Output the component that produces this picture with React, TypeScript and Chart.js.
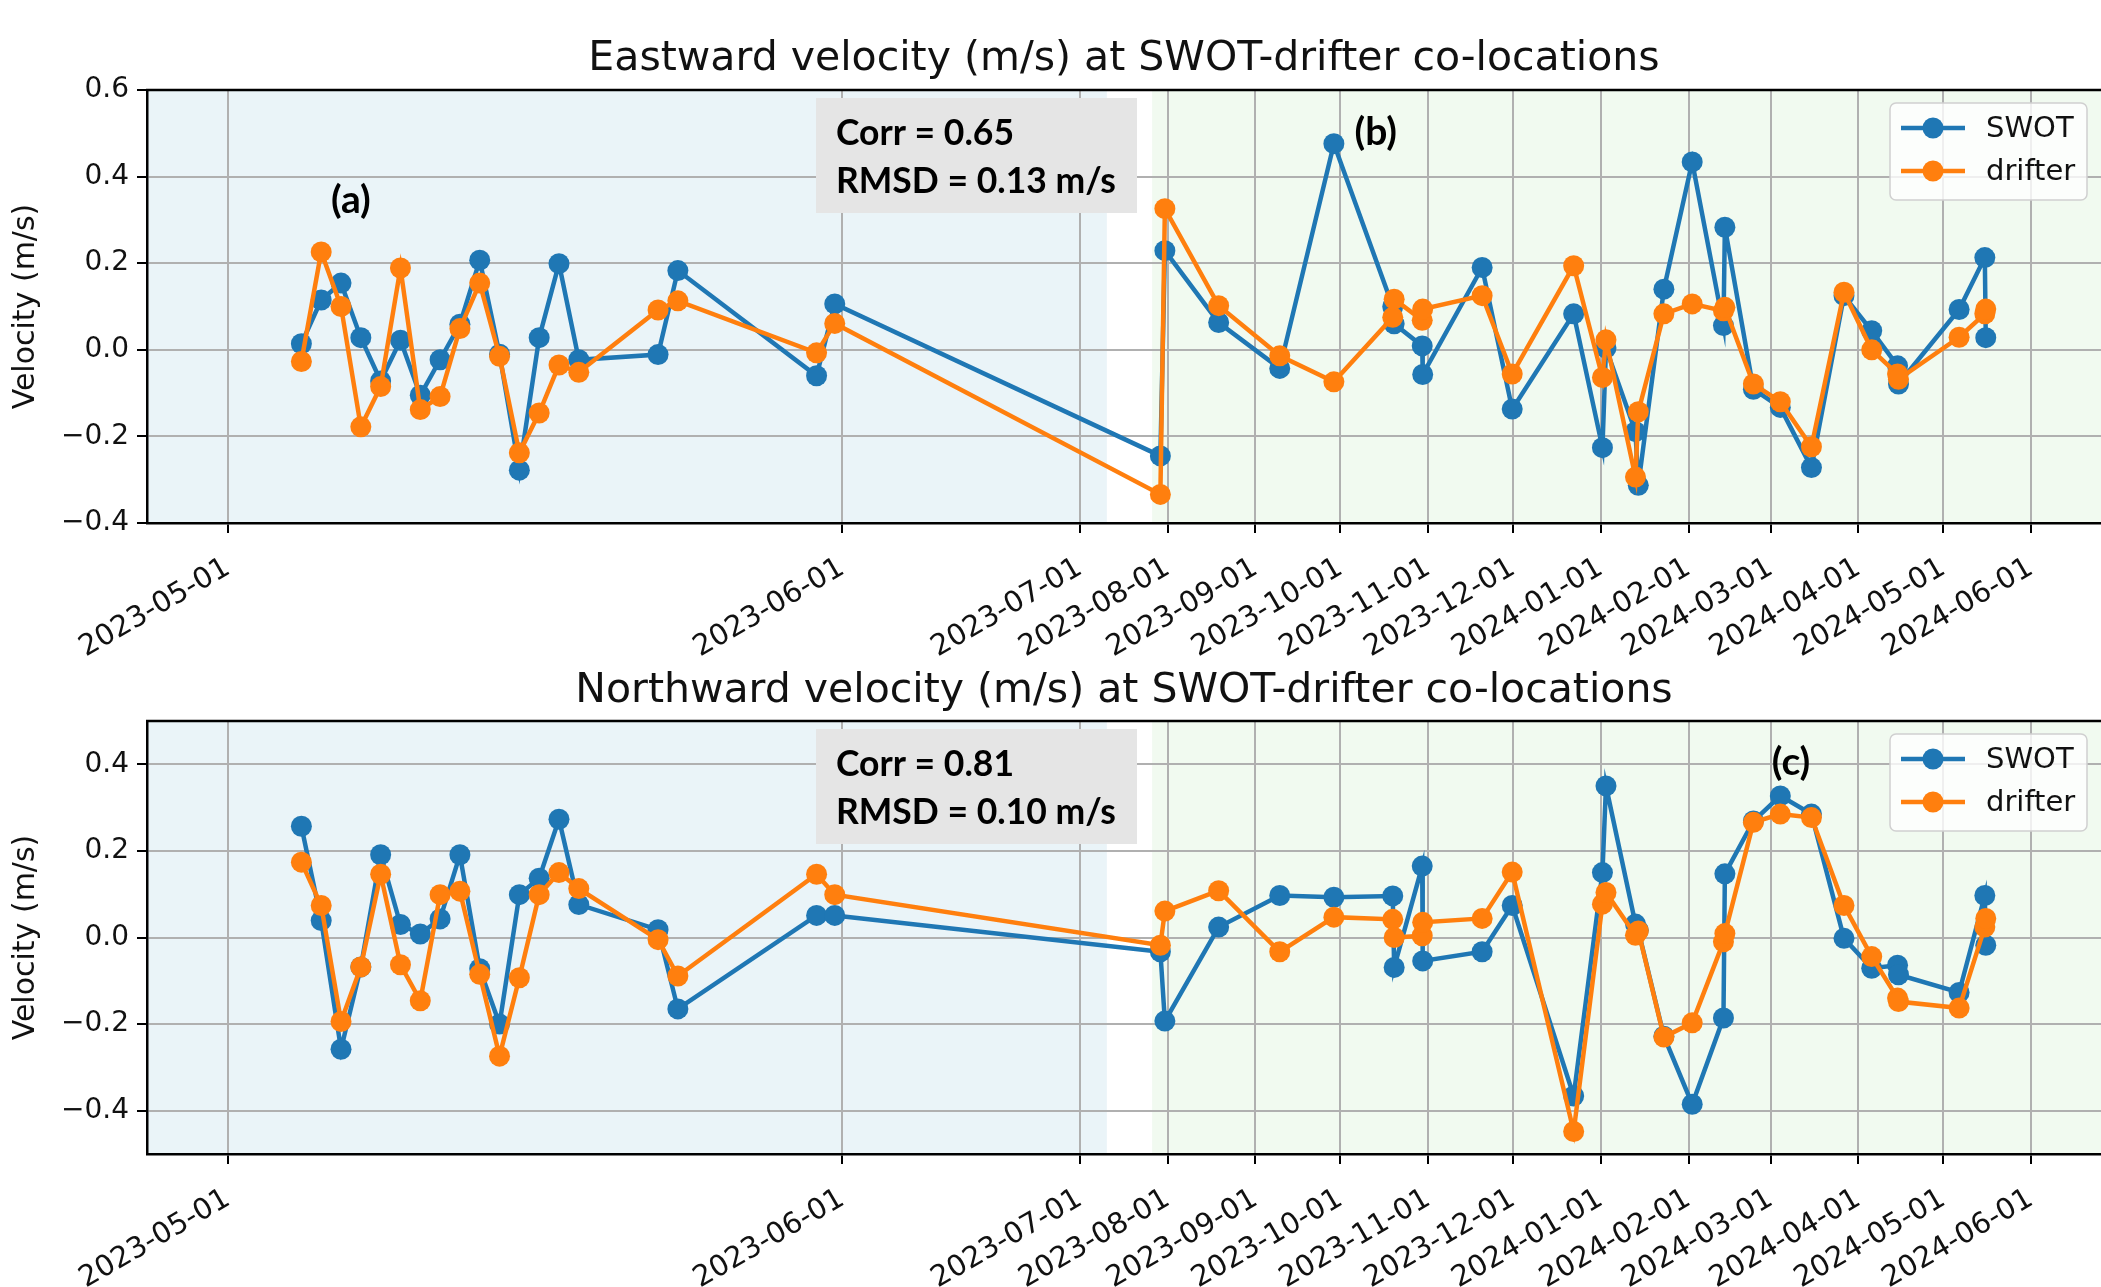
import React, { useEffect, useRef } from 'react';
import { Chart, registerables } from 'chart.js';

Chart.register(...registerables);

// ---------------- data ----------------
const OBS_TIMES = [
  '2023-05-04T17:00', '2023-05-05T17:00', '2023-05-06T17:00', '2023-05-07T17:00', '2023-05-08T17:00',
  '2023-05-09T17:00', '2023-05-10T17:00', '2023-05-11T17:00', '2023-05-12T17:00', '2023-05-13T17:00',
  '2023-05-14T17:00', '2023-05-15T17:00', '2023-05-16T17:00', '2023-05-17T17:00', '2023-05-18T17:00',
  '2023-05-22T17:00', '2023-05-23T17:00', '2023-05-30T17:00', '2023-05-31T15:00',
  '2023-07-29T10:00', '2023-07-31T00:00', '2023-08-19T00:00', '2023-09-09T14:00', '2023-09-28T17:00',
  '2023-10-19T12:00', '2023-10-20T00:00', '2023-10-29T22:00', '2023-10-30T02:00', '2023-11-20T02:00',
  '2023-11-30T17:00', '2023-12-22T10:00', '2024-01-01T14:00', '2024-01-02T20:00', '2024-01-13T06:00',
  '2024-01-14T06:00', '2024-01-23T07:00', '2024-02-02T07:00', '2024-02-13T08:00', '2024-02-13T20:00',
  '2024-02-23T22:00', '2024-03-04T10:00', '2024-03-15T10:00', '2024-03-26T22:00', '2024-04-05T17:00',
  '2024-04-14T20:00', '2024-04-15T04:00', '2024-05-06T14:00', '2024-05-15T16:00', '2024-05-16T00:00',
];

const EAST_SWOT = [
  0.014, 0.115, 0.154, 0.028, -0.072, 0.022, -0.105, -0.023, 0.059, 0.207,
  -0.010, -0.278, 0.028, 0.199, -0.023, -0.011, 0.183, -0.060, 0.106,
  -0.245, 0.229, 0.063, -0.043, 0.476, 0.100, 0.060, 0.009, -0.057, 0.190,
  -0.137, 0.083, -0.226, 0.004, -0.189, -0.313, 0.140, 0.434, 0.056, 0.283,
  -0.091, -0.133, -0.272, 0.125, 0.044, -0.037, -0.079, 0.093, 0.213, 0.028,
];

const EAST_DRIFTER = [
  -0.027, 0.226, 0.100, -0.178, -0.085, 0.189, -0.138, -0.108, 0.049, 0.154,
  -0.015, -0.238, -0.146, -0.035, -0.052, 0.092, 0.113, -0.007, 0.061,
  -0.334, 0.326, 0.102, -0.014, -0.074, 0.075, 0.117, 0.068, 0.094, 0.125,
  -0.056, 0.194, -0.064, 0.023, -0.294, -0.143, 0.083, 0.106, 0.090, 0.098,
  -0.079, -0.120, -0.224, 0.133, 0.000, -0.056, -0.068, 0.029, 0.083, 0.094,
];

const NORTH_SWOT = [
  0.257, 0.039, -0.258, -0.068, 0.191, 0.030, 0.008, 0.043, 0.191, -0.072,
  -0.200, 0.099, 0.137, 0.273, 0.076, 0.018, -0.165, 0.051, 0.051,
  -0.033, -0.193, 0.024, 0.097, 0.093, 0.096, -0.069, 0.165, -0.054, -0.033,
  0.074, -0.366, 0.150, 0.350, 0.031, 0.017, -0.228, -0.385, -0.186, 0.147,
  0.269, 0.327, 0.285, -0.002, -0.071, -0.064, -0.086, -0.127, 0.097, -0.018,
];

const NORTH_DRIFTER = [
  0.174, 0.074, -0.194, -0.068, 0.146, -0.063, -0.146, 0.099, 0.107, -0.085,
  -0.274, -0.093, 0.099, 0.150, 0.113, -0.005, -0.089, 0.146, 0.099,
  -0.018, 0.061, 0.108, -0.033, 0.047, 0.042, 0.000, 0.004, 0.035, 0.044,
  0.151, -0.448, 0.077, 0.104, 0.005, 0.015, -0.230, -0.197, -0.010, 0.009,
  0.266, 0.285, 0.277, 0.074, -0.044, -0.140, -0.148, -0.163, 0.024, 0.044,
];

const TICK_DATES = [
  '2023-05-01', '2023-06-01', '2023-07-01', '2023-08-01', '2023-09-01', '2023-10-01', '2023-11-01',
  '2023-12-01', '2024-01-01', '2024-02-01', '2024-03-01', '2024-04-01', '2024-05-01', '2024-06-01',
];

const EAST_Y_TICKS = [-0.4, -0.2, 0.0, 0.2, 0.4, 0.6];
const NORTH_Y_TICKS = [-0.4, -0.2, 0.0, 0.2, 0.4];
const EAST_Y_RANGE = [-0.4, 0.6];
const NORTH_Y_RANGE = [-0.5, 0.5];

const SERIES_NAMES = ['SWOT', 'drifter'];
const EAST_STATS = ['Corr = 0.65', 'RMSD = 0.13 m/s'];
const NORTH_STATS = ['Corr = 0.81', 'RMSD = 0.10 m/s'];
const EAST_TITLE = 'Eastward velocity (m/s) at SWOT-drifter co-locations';
const NORTH_TITLE = 'Northward velocity (m/s) at SWOT-drifter co-locations';
const Y_LABEL = 'Velocity (m/s)';

// panel labels: [text, date, value]
const EAST_PANEL_LABELS: [string, string, number][] = [
  ['(a)', '2023-05-07T05:00', 0.344],
  ['(b)', '2023-10-13T12:00', 0.503],
];
const NORTH_PANEL_LABELS: [string, string, number][] = [['(c)', '2024-03-08T05:00', 0.405]];

// x-axis limits and shaded phases (dates)
const X_LIMITS = ['2023-04-26T22:00', '2024-06-25T17:00'];
const PHASE_1 = ['2023-04-26T22:00', '2023-07-10T12:00'];
const PHASE_2 = ['2023-07-26T12:00', '2024-06-25T17:00'];

// piecewise time axis: [segment start, axis units per day]
const AXIS_SEGMENTS: [string, number][] = [
  ['2023-05-01', 1],
  ['2023-06-01', 0.4],
  ['2023-07-01', 1 / 7],
];

// ---------------- styles ----------------
const C_SWOT = '#1f77b4';
const C_DRIFTER = '#ff7f0e';
const PHASE_COLORS = ['rgb(234,244,248)', 'rgb(241,250,240)'];
const AXIS_FONT = '"DejaVu Sans", "Liberation Sans", sans-serif';
const NOTE_FONT = 'Lato, "Open Sans", sans-serif';
const W = 2101;

const DAY = 86400000;
function ms(s: string): number {
  const full = s.length <= 10 ? s + 'T00:00' : s;
  return Date.parse(full + 'Z');
}
function toAxis(s: string): number {
  const t = ms(s);
  let acc = 0;
  for (let i = 0; i < AXIS_SEGMENTS.length; i++) {
    const start = ms(AXIS_SEGMENTS[i][0]);
    const rate = AXIS_SEGMENTS[i][1];
    const next = i + 1 < AXIS_SEGMENTS.length ? ms(AXIS_SEGMENTS[i + 1][0]) : Infinity;
    if (t < next || i === AXIS_SEGMENTS.length - 1) {
      return acc + ((t - start) / DAY) * rate;
    }
    acc += ((next - start) / DAY) * rate;
  }
  return acc;
}

const decorPlugin = {
  id: 'decor',
  beforeDraw(chart: any) {
    const { ctx, chartArea: a, scales } = chart;
    const x = scales.x;
    ctx.save();
    [PHASE_1, PHASE_2].forEach((ph, i) => {
      const x0 = Math.max(a.left, x.getPixelForValue(toAxis(ph[0])));
      const x1 = Math.min(a.right, x.getPixelForValue(toAxis(ph[1])));
      ctx.fillStyle = PHASE_COLORS[i];
      ctx.fillRect(x0, a.top, x1 - x0, a.bottom - a.top);
    });
    ctx.restore();
  },
  afterDraw(chart: any, _args: any, opts: any) {
    const { ctx, chartArea: a, scales } = chart;
    const x = scales.x;
    const y = scales.y;
    ctx.save();
    // top spine
    ctx.strokeStyle = '#000';
    ctx.lineWidth = 2.5;
    ctx.beginPath();
    ctx.moveTo(a.left - 1, a.top);
    ctx.lineTo(a.right, a.top);
    ctx.stroke();

    // title
    ctx.fillStyle = '#111';
    ctx.font = `41px ${AXIS_FONT}`;
    ctx.textAlign = 'center';
    ctx.textBaseline = 'alphabetic';
    ctx.fillText(opts.title, (a.left + a.right) / 2, opts.titleBaseline);

    // stats box
    const bx = a.left + 669;
    const by = a.top + 8;
    ctx.fillStyle = '#e5e5e5';
    ctx.fillRect(bx, by, 321, 115);
    ctx.fillStyle = '#000';
    ctx.font = `bold 35.5px ${NOTE_FONT}`;
    ctx.textAlign = 'left';
    ctx.fillText(opts.stats[0], bx + 20, a.top + 55);
    ctx.fillText(opts.stats[1], bx + 20, a.top + 103);

    // panel labels
    ctx.textAlign = 'center';
    ctx.textBaseline = 'middle';
    ctx.font = `bold 39px ${NOTE_FONT}`;
    for (const [txt, d, v] of opts.labels) {
      ctx.fillText(txt, x.getPixelForValue(toAxis(d)), y.getPixelForValue(v));
    }

    // legend
    const lx = a.right - 211;
    const ly = a.top + 13;
    const lw = 197;
    const lh = 97;
    ctx.beginPath();
    ctx.roundRect(lx, ly, lw, lh, 6);
    ctx.fillStyle = 'rgba(255,255,255,0.8)';
    ctx.fill();
    ctx.strokeStyle = '#d0d0d0';
    ctx.lineWidth = 1.5;
    ctx.stroke();
    const colors = [C_SWOT, C_DRIFTER];
    ctx.font = `29px ${AXIS_FONT}`;
    ctx.textAlign = 'left';
    ctx.textBaseline = 'middle';
    SERIES_NAMES.forEach((name, i) => {
      const yy = a.top + 38 + i * 43;
      ctx.strokeStyle = colors[i];
      ctx.lineWidth = 4.5;
      ctx.beginPath();
      ctx.moveTo(lx + 11, yy);
      ctx.lineTo(lx + 75, yy);
      ctx.stroke();
      ctx.fillStyle = colors[i];
      ctx.beginPath();
      ctx.arc(lx + 43, yy, 10.5, 0, Math.PI * 2);
      ctx.fill();
      ctx.fillStyle = '#111';
      ctx.fillText(name, lx + 96, yy + 1);
    });
    ctx.restore();
  },
};

function makeConfig(p: {
  swot: number[];
  drifter: number[];
  yTicks: number[];
  yRange: number[];
  chartTop: number;
  xAxisHeight: number;
  title: string;
  titleBaseline: number;
  stats: string[];
  labels: [string, string, number][];
}): any {
  const mk = (vals: number[]) => OBS_TIMES.map((t, i) => ({ x: toAxis(t), y: vals[i] }));
  const ds = (label: string, vals: number[], color: string, order: number) => ({
    label,
    data: mk(vals),
    borderColor: color,
    backgroundColor: color,
    pointBackgroundColor: color,
    borderWidth: 4.5,
    pointRadius: 10.5,
    pointHoverRadius: 10.5,
    pointBorderWidth: 0,
    tension: 0,
    order,
  });
  return {
    type: 'line',
    data: {
      datasets: [ds(SERIES_NAMES[0], p.swot, C_SWOT, 2), ds(SERIES_NAMES[1], p.drifter, C_DRIFTER, 1)],
    },
    options: {
      animation: false,
      responsive: false,
      maintainAspectRatio: false,
      devicePixelRatio: 1,
      layout: { autoPadding: false, padding: { top: p.chartTop, left: 0, right: 0, bottom: 0 } },
      plugins: {
        legend: { display: false },
        tooltip: { enabled: false },
        title: { display: false },
        decor: {
          title: p.title,
          titleBaseline: p.titleBaseline,
          stats: p.stats,
          labels: p.labels,
        },
      },
      scales: {
        x: {
          type: 'linear',
          min: toAxis(X_LIMITS[0]),
          max: toAxis(X_LIMITS[1]),
          afterBuildTicks: (s: any) => {
            s.ticks = TICK_DATES.map((d) => ({ value: toAxis(d) }));
          },
          afterFit: (s: any) => {
            s.height = p.xAxisHeight;
            s.paddingLeft = 0;
            s.paddingRight = 0;
          },
          ticks: {
            autoSkip: false,
            minRotation: 30,
            maxRotation: 30,
            color: '#111',
            padding: 18,
            font: { family: AXIS_FONT, size: 29 },
            callback: (_v: any, i: number) => TICK_DATES[i],
          },
          grid: {
            color: '#b0b0b0',
            lineWidth: 2,
            tickLength: 10,
            tickColor: '#000',
            tickWidth: 2,
          },
          border: { display: true, color: '#000', width: 2.5 },
        },
        y: {
          type: 'linear',
          min: p.yRange[0],
          max: p.yRange[1],
          afterBuildTicks: (s: any) => {
            s.ticks = p.yTicks.map((v) => ({ value: v }));
          },
          afterFit: (s: any) => {
            s.width = 147;
            s.paddingTop = 0;
            s.paddingBottom = 0;
          },
          ticks: {
            color: '#111',
            padding: 8,
            font: { family: AXIS_FONT, size: 28 },
            callback: (v: any) => Number(v).toFixed(1).replace('-', '\u2212'),
          },
          grid: {
            color: '#b0b0b0',
            lineWidth: 2,
            tickLength: 10,
            tickColor: '#000',
            tickWidth: 2,
          },
          border: { display: true, color: '#000', width: 2.5 },
          title: {
            display: true,
            text: Y_LABEL,
            color: '#111',
            font: { family: AXIS_FONT, size: 30 },
            padding: { top: 8, bottom: 0 },
          },
        },
      },
    },
    plugins: [decorPlugin],
  };
}

export default function App() {
  const topRef = useRef<HTMLCanvasElement | null>(null);
  const botRef = useRef<HTMLCanvasElement | null>(null);

  useEffect(() => {
    const charts: Chart[] = [];
    if (topRef.current) {
      charts.push(
        new Chart(
          topRef.current,
          makeConfig({
            swot: EAST_SWOT,
            drifter: EAST_DRIFTER,
            yTicks: EAST_Y_TICKS,
            yRange: EAST_Y_RANGE,
            chartTop: 90,
            xAxisHeight: 660 - 523,
            title: EAST_TITLE,
            titleBaseline: 70,
            stats: EAST_STATS,
            labels: EAST_PANEL_LABELS,
          })
        )
      );
    }
    if (botRef.current) {
      charts.push(
        new Chart(
          botRef.current,
          makeConfig({
            swot: NORTH_SWOT,
            drifter: NORTH_DRIFTER,
            yTicks: NORTH_Y_TICKS,
            yRange: NORTH_Y_RANGE,
            chartTop: 61,
            xAxisHeight: 627 - 494,
            title: NORTH_TITLE,
            titleBaseline: 42,
            stats: NORTH_STATS,
            labels: NORTH_PANEL_LABELS,
          })
        )
      );
    }
    return () => charts.forEach((c) => c.destroy());
  }, []);

  return (
    <div style={{ position: 'absolute', left: 0, top: 0, width: W, height: 1287, background: '#fff', overflow: 'hidden' }}>
      <canvas ref={topRef} width={W} height={660} style={{ position: 'absolute', left: 0, top: 0, width: W, height: 660 }} />
      <canvas ref={botRef} width={W} height={627} style={{ position: 'absolute', left: 0, top: 660, width: W, height: 627 }} />
    </div>
  );
}
